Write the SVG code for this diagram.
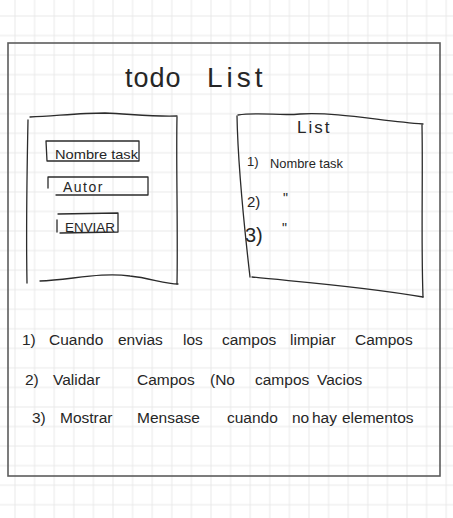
<svg xmlns="http://www.w3.org/2000/svg" width="453" height="518" viewBox="0 0 453 518">
  <defs>
    <!-- squared notebook paper -->
    <pattern id="grid" patternUnits="userSpaceOnUse" x="5.2" y="6.2" width="19.6" height="19.55">
      <path d="M9.8 0V19.55M0 9.8H19.6" stroke="#e9e9e9" stroke-width="1" fill="none"/>
    </pattern>
    <style>
      .ink { fill: none; stroke: #2b2b2b; stroke-width: 1.3; stroke-linecap: round; stroke-linejoin: round; }
      .hand { font-family: "Liberation Sans", "DejaVu Sans", sans-serif; fill: #262626; }
      .note { font-size: 15.5px; }
    </style>
  </defs>

  <rect width="453" height="518" fill="#ffffff"/>
  <rect width="453" height="518" fill="url(#grid)"/>

  <!-- outer page frame -->
  <g id="frame">
    <rect x="8" y="43" width="432" height="433" fill="none" stroke="#5c5c5c" stroke-width="1.6"/>
  </g>

  <!-- title -->
  <g id="title" class="hand">
    <text x="125" y="87" font-size="27" letter-spacing="1">todo</text>
    <text x="207" y="87" font-size="28" letter-spacing="4">List</text>
  </g>

  <!-- form panel with inputs and button -->
  <g id="form-panel">
    <path class="ink" d="M28 120 C27 170 26 230 27 283"/>
    <path class="ink" d="M30 117 C55 116 80 113 105 113 C130 114 155 117 177 116"/>
    <path class="ink" d="M177 117 C176 160 178 230 177 284"/>
    <path class="ink" d="M40 281 C70 280 100 272 130 276 C150 278 165 284 178 284"/>
    <g id="input-nombre">
      <path class="ink" d="M46 141 L139 141 L139 161 L47 161 Z"/>
      <text class="hand" x="55" y="159" font-size="13" textLength="83" lengthAdjust="spacingAndGlyphs">Nombre task</text>
    </g>
    <g id="input-autor">
      <path class="ink" d="M48 188 L48 177 L148 177 L148 195 L56 195"/>
      <text class="hand" x="63" y="192" font-size="14" letter-spacing="1.5">Autor</text>
    </g>
    <g id="button-enviar">
      <path class="ink" d="M57 220 L57 232 M58 214 L118 213 L118 232 L60 233"/>
      <text class="hand" x="65" y="232" font-size="12" textLength="50" lengthAdjust="spacingAndGlyphs">ENVIAR</text>
    </g>
  </g>

  <!-- task list panel -->
  <g id="list-panel">
    <path class="ink" d="M238 115 C260 112 280 116 300 114 C340 112 380 121 423 124"/>
    <path class="ink" d="M237 116 C238 170 244 225 250 277"/>
    <path class="ink" d="M252 277 C300 282 360 286 423 297"/>
    <path class="ink" d="M422 125 C423 180 421 240 423 297"/>
    <text class="hand" x="297" y="133" font-size="17" letter-spacing="2">List</text>
    <g id="item-1" class="hand">
      <text x="247" y="166" font-size="13">1)</text>
      <text x="270" y="168" font-size="13" textLength="73" lengthAdjust="spacingAndGlyphs">Nombre task</text>
    </g>
    <g id="item-2" class="hand">
      <text x="247" y="207" font-size="15">2)</text>
      <text x="283" y="203" font-size="14">"</text>
    </g>
    <g id="item-3" class="hand">
      <text x="245" y="242" font-size="20">3)</text>
      <text x="282" y="233" font-size="14">"</text>
    </g>
  </g>

  <!-- requirement notes -->
  <g id="notes" class="hand note">
    <text y="345">
      <tspan x="22">1)</tspan>
      <tspan x="49">Cuando</tspan>
      <tspan x="118">envias</tspan>
      <tspan x="183">los</tspan>
      <tspan x="222">campos</tspan>
      <tspan x="290">limpiar</tspan>
      <tspan x="355">Campos</tspan>
    </text>
    <text y="385">
      <tspan x="25">2)</tspan>
      <tspan x="53">Validar</tspan>
      <tspan x="137">Campos</tspan>
      <tspan x="210">(No</tspan>
      <tspan x="255">campos</tspan>
      <tspan x="317">Vacios</tspan>
    </text>
    <text y="423">
      <tspan x="32">3)</tspan>
      <tspan x="60">Mostrar</tspan>
      <tspan x="137">Mensase</tspan>
      <tspan x="227">cuando</tspan>
      <tspan x="292">no</tspan>
      <tspan x="312">hay</tspan>
      <tspan x="342">elementos</tspan>
    </text>
  </g>
</svg>
